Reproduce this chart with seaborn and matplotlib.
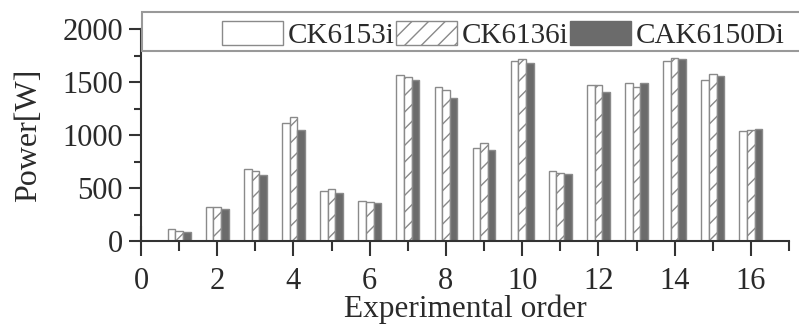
import matplotlib
matplotlib.use("Agg")
import matplotlib.pyplot as plt
import seaborn as sns
import pandas as pd
from matplotlib.patches import Patch, Rectangle
from matplotlib.ticker import MultipleLocator

orders = list(range(1, 17))
models = ["CK6153i", "CK6136i", "CAK6150Di"]
ck6153i = [110, 324, 679, 1113, 472, 377, 1569, 1453, 880, 1701, 660, 1469, 1490, 1698, 1516, 1035]
ck6136i = [91, 324, 663, 1173, 487, 371, 1550, 1425, 921, 1717, 642, 1469, 1456, 1729, 1575, 1050]
cak6150di = [85, 305, 623, 1044, 450, 358, 1519, 1346, 856, 1682, 635, 1403, 1490, 1717, 1553, 1054]

rows = []
for name, vals in zip(models, [ck6153i, ck6136i, cak6150di]):
    for o, v in zip(orders, vals):
        rows.append({"order": o, "power": v, "model": name})
df = pd.DataFrame(rows)

sns.set_style("ticks")
plt.rcParams["font.family"] = ["Liberation Serif", "DejaVu Serif"]
plt.rcParams["hatch.color"] = "#808080"
plt.rcParams["hatch.linewidth"] = 1.0

fills = ["white", "white", "#6b6b6b"]
edge = "#8a8a8a"
txt = "#2a2a2a"

fig = plt.figure(figsize=(7.99, 3.28), dpi=100)
ax = fig.add_axes([141 / 799, 1 - 241 / 328, (789 - 141) / 799, (241 - 29) / 328])

sns.barplot(data=df, x="order", y="power", hue="model", hue_order=models,
            native_scale=True, width=0.6, palette=fills, edgecolor=edge,
            linewidth=1.0, saturation=1, ax=ax, legend=False, errorbar=None)
for bar in ax.containers[1]:
    bar.set_hatch("//")

ax.set_xlim(0, 17)
ax.set_ylim(0, 2000)
ax.xaxis.set_major_locator(MultipleLocator(2))
ax.xaxis.set_minor_locator(MultipleLocator(1))
ax.yaxis.set_major_locator(MultipleLocator(500))
ax.yaxis.set_minor_locator(MultipleLocator(250))
ax.set_xticks(range(0, 17, 2))
ax.set_xticklabels([str(v) for v in range(0, 17, 2)])

for s in ["top", "right"]:
    ax.spines[s].set_visible(False)
for s in ["left", "bottom"]:
    ax.spines[s].set_color("#333333")
    ax.spines[s].set_linewidth(1.5)

ax.tick_params(axis="x", which="major", direction="inout", length=22, width=1.5,
               color="#333333", labelsize=22, pad=8)
ax.tick_params(axis="x", which="minor", direction="out", length=7, width=1.5, color="#333333")
ax.tick_params(axis="y", which="major", direction="out", length=9, width=1.5,
               color="#333333", labelsize=22, pad=4)
ax.tick_params(axis="y", which="minor", direction="out", length=5, width=1.5, color="#333333")

ax.set_xlabel("Experimental order", fontsize=22.5, labelpad=-1, color=txt)
ax.set_ylabel("Power[W]", fontsize=23, labelpad=14, color=txt)
for lab in ax.get_xticklabels() + ax.get_yticklabels():
    lab.set_color(txt)

# legend box
box = Rectangle((142 / 799, 1 - 51 / 328), 1.0, 39 / 328, transform=fig.transFigure,
                facecolor="white", edgecolor="#999999", linewidth=1.5, zorder=5)
fig.patches.append(box)

handles = [Patch(facecolor=fills[0], edgecolor=edge),
           Patch(facecolor=fills[1], edgecolor=edge, hatch="//"),
           Patch(facecolor=fills[2], edgecolor=fills[2])]
leg = fig.legend(handles, models, loc="center left", bbox_to_anchor=(222 / 799, 1 - 35 / 328),
                 ncol=3, frameon=False, fontsize=21, handlelength=2.1, handleheight=0.9,
                 handletextpad=0.15, columnspacing=0.05, borderpad=0, borderaxespad=0)
leg.set_zorder(6)
for t in leg.get_texts():
    t.set_color(txt)

fig.savefig("out.png", dpi=100)
